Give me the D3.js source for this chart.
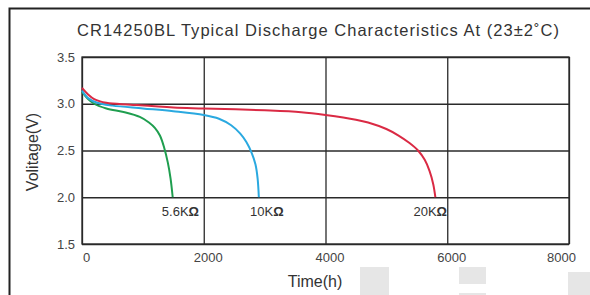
<!DOCTYPE html>
<html>
<head>
<meta charset="utf-8">
<script src="https://cdn.jsdelivr.net/npm/d3@7"></script>
<style>
  body { margin: 0; background: #fff; }
  svg { display: block; font-family: "Liberation Sans", Arial, sans-serif; }
</style>
</head>
<body>
<div id="chart"></div>
<script>
'use strict';

// ---------- data ---------- //
var xTicks = [0, 2000, 4000, 6000, 8000];
var yTicks = [1.5, 2.0, 2.5, 3.0, 3.5];

var green56k = [[0, 3.13], [100, 3.05], [200, 3.00], [400, 2.95], [700, 2.91], [950, 2.86],
  [1100, 2.80], [1200, 2.74], [1280, 2.66], [1350, 2.53], [1410, 2.37], [1455, 2.20], [1490, 2.0]];
var blue10k = [[0, 3.14], [100, 3.06], [250, 3.01], [500, 2.98], [1000, 2.95], [1500, 2.92],
  [2000, 2.88], [2250, 2.84], [2450, 2.77], [2600, 2.68], [2700, 2.59], [2790, 2.47],
  [2850, 2.35], [2885, 2.20], [2905, 2.0]];
var red20k = [[0, 3.17], [100, 3.10], [200, 3.05], [400, 3.01], [800, 2.99], [1500, 2.96],
  [2000, 2.95], [3000, 2.93], [3600, 2.91], [4000, 2.88], [4500, 2.83], [4700, 2.80],
  [5000, 2.73], [5200, 2.66], [5380, 2.58], [5520, 2.50], [5630, 2.40], [5710, 2.28],
  [5770, 2.14], [5805, 2.0]];

var seriesNames = ['5.6K', '10K', '20K'];
var seriesData = [green56k, blue10k, red20k];
var colors = ['#1f9e4f', '#2aa9e0', '#da2a44'];

// ---------- build ---------- //
var width = 590, height = 295;
var svg = d3.select('#chart').append('svg')
  .attr('width', width)
  .attr('height', height);

// light grey patches at the bottom of the scan
[[360, 267, 29, 28], [459, 267, 27, 17], [459, 293, 27, 2], [568, 272, 22, 23]].forEach(function (r) {
  svg.append('rect').attr('x', r[0]).attr('y', r[1]).attr('width', r[2]).attr('height', r[3])
    .attr('fill', '#e6e6e6');
});

// outer frame (top and left only)
svg.append('path')
  .attr('d', 'M9.5,295 V8.5 H590')
  .attr('fill', 'none')
  .attr('stroke', '#222')
  .attr('stroke-width', 2);

svg.append('text')
  .attr('x', 318).attr('y', 36)
  .attr('text-anchor', 'middle')
  .attr('font-size', 16.5)
  .attr('fill', '#333')
  .attr('textLength', 482)
  .text('CR14250BL Typical Discharge Characteristics At (23\u00B12\u02DAC)');

var x = d3.scaleLinear().domain([0, 8000]).range([82, 569]);
var y = d3.scaleLinear().domain([1.5, 3.5]).range([244, 57]);

// grid + axes
var gx = svg.append('g').attr('transform', 'translate(0,244)')
  .call(d3.axisBottom(x).tickValues(xTicks).tickSize(-187).tickPadding(9).tickFormat(d3.format('d')));
var gy = svg.append('g').attr('transform', 'translate(82,0)')
  .call(d3.axisLeft(y).tickValues(yTicks).tickSize(-487).tickPadding(7).tickFormat(d3.format('.1f')));

[gx, gy].forEach(function (g) {
  g.select('.domain').remove();
  g.selectAll('.tick line').attr('stroke', '#2a2a2a').attr('stroke-width', 1.3);
  g.selectAll('.tick text').attr('font-size', 13).attr('fill', '#444')
    .attr('font-family', '"Liberation Sans", Arial, sans-serif');
});
gx.selectAll('.tick text').attr('dx', function (d) { return d === 8000 ? -8 : 4; });

svg.append('rect')
  .attr('x', 82).attr('y', 57).attr('width', 487).attr('height', 187)
  .attr('fill', 'none').attr('stroke', '#2a2a2a').attr('stroke-width', 1.3);

// curves
var line = d3.line()
  .x(function (d) { return x(d[0]); })
  .y(function (d) { return y(d[1]); })
  .curve(d3.curveCatmullRom.alpha(0.5));

svg.selectAll('path.curve').data(seriesData).enter().append('path')
  .attr('class', 'curve')
  .attr('d', line)
  .attr('fill', 'none')
  .attr('stroke', function (d, i) { return colors[i]; })
  .attr('stroke-width', 2);

// curve labels
var labelPos = [[199, 'end'], [250, 'start'], [447, 'end']];
var labels = svg.selectAll('text.lab').data(seriesNames).enter().append('text')
  .attr('class', 'lab')
  .attr('x', function (d, i) { return labelPos[i][0]; })
  .attr('y', 216)
  .attr('text-anchor', function (d, i) { return labelPos[i][1]; })
  .attr('font-size', 13)
  .attr('fill', '#333');
labels.append('tspan').text(function (d) { return d; });
labels.append('tspan').attr('font-weight', 'bold').text('\u03A9');

// axis titles
svg.append('text')
  .attr('x', 315).attr('y', 287)
  .attr('text-anchor', 'middle')
  .attr('font-size', 16)
  .attr('fill', '#333')
  .text('Time(h)');

svg.append('text')
  .attr('transform', 'translate(38,152) rotate(-90)')
  .attr('text-anchor', 'middle')
  .attr('font-size', 16)
  .attr('fill', '#333')
  .text('Volitage(V)');
</script>
</body>
</html>
